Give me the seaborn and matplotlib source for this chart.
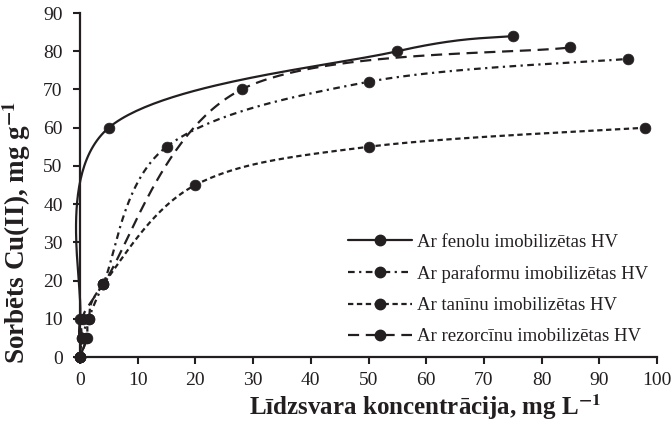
import numpy as np
import pandas as pd
import matplotlib
matplotlib.use("Agg")
import matplotlib.pyplot as plt
import seaborn as sns
from matplotlib.lines import Line2D

# Equilibrium concentration (mg/L) and sorbed Cu(II) (mg/g) for each sorbent
fenolu_x = [0, 1, 0, 5, 55, 75]
fenolu_y = [0, 5, 10, 60, 80, 84]
paraformu_x = [0, 0.3, 1.5, 4, 15, 50, 95]
paraformu_y = [0, 5, 10, 19, 55, 72, 78]
taninu_x = [0, 1.2, 1.5, 4, 20, 50, 98]
taninu_y = [0, 5, 10, 19, 45, 55, 60]
rezorcinu_x = [0, 0.3, 0.5, 4, 28, 85]
rezorcinu_y = [0, 5, 10, 19, 70, 81]

labels = ["Ar fenolu imobilizētas HV", "Ar paraformu imobilizētas HV",
          "Ar tanīnu imobilizētas HV", "Ar rezorcīnu imobilizētas HV"]
x_ticks = list(range(0, 101, 10))
y_ticks = list(range(0, 91, 10))

series = [(fenolu_x, fenolu_y), (paraformu_x, paraformu_y),
          (taninu_x, taninu_y), (rezorcinu_x, rezorcinu_y)]
dash_styles = [None, (3, 2, 1, 2), (2.4, 1.6), (5, 3)]

sns.set_theme(style="ticks")
plt.rcParams["font.family"] = ["Liberation Serif", "DejaVu Serif"]
plt.rcParams["mathtext.fontset"] = "stix"

ink = "#231f20"
fig = plt.figure(figsize=(6.72, 4.22), dpi=100)
ax = fig.add_axes([80 / 672, 1 - 357 / 422, 577 / 672, 344 / 422])
ax.set_xlim(0, 100)
ax.set_ylim(0, 90)


def smooth(xs, ys, sx, sy, n=60):
    """Bezier smoothing through points in display-proportional space."""
    p = np.column_stack([np.asarray(xs, float) * sx, np.asarray(ys, float) * sy])
    out = [p[0]]
    m = len(p)
    for i in range(m - 1):
        p0 = p[i - 1] if i > 0 else p[i]
        p1, p2 = p[i], p[i + 1]
        p3 = p[i + 2] if i + 2 < m else p[i + 1]
        c1 = p1 + (p2 - p0) / 6.0
        c2 = p2 - (p3 - p1) / 6.0
        t = np.linspace(0, 1, n)[1:, None]
        seg = ((1 - t) ** 3) * p1 + 3 * ((1 - t) ** 2) * t * c1 + 3 * (1 - t) * t ** 2 * c2 + t ** 3 * p2
        out.extend(seg)
    out = np.array(out)
    return out[:, 0] / sx, out[:, 1] / sy


sx, sy = 5.77, 3.82
frames = []
for (xs, ys), lab, ds in zip(series, labels, dash_styles):
    cx, cy = smooth(xs, ys, sx, sy)
    line, = ax.plot(cx, cy, color=ink, lw=1.6, clip_on=False)
    if ds is not None:
        line.set_dashes(ds)
    frames.append(pd.DataFrame({"x": xs, "y": ys, "series": lab}))

pts = pd.concat(frames, ignore_index=True)
sns.scatterplot(data=pts, x="x", y="y", ax=ax, color=ink, s=60,
                edgecolor=ink, linewidth=0.5, legend=False, clip_on=False, zorder=5)

handles = []
for lab, ds in zip(labels, dash_styles):
    h = Line2D([0], [0], color=ink, lw=1.6, marker="o", markersize=7.5,
               markerfacecolor=ink, markeredgecolor=ink)
    if ds is not None:
        h.set_dashes(ds)
    handles.append(h)
ax.legend(handles, labels, loc="upper left",
          bbox_to_anchor=(331 / 672, 1 - 217 / 422), bbox_transform=fig.transFigure,
          frameon=False, fontsize=13.5, handlelength=3.4, numpoints=1,
          labelspacing=0.75, handletextpad=0.3, labelcolor=ink, borderpad=0.4)

ax.set_xticks(x_ticks)
ax.set_yticks(y_ticks)
ax.tick_params(axis="both", direction="out", length=5, width=1.5,
               labelsize=14, colors=ink)
ax.tick_params(axis="x", pad=6)
ax.tick_params(axis="y", pad=7.5)
for s in ["top", "right"]:
    ax.spines[s].set_visible(False)
for s in ["left", "bottom"]:
    ax.spines[s].set_linewidth(1.6)
    ax.spines[s].set_color(ink)

ax.set_xlabel(r"Līdzsvara koncentrācija, mg L$^{\mathbf{-1}}$", fontsize=18,
              fontweight="bold", color=ink, va="center")
ax.xaxis.set_label_coords((425 - 80) / 577, (357 - 407) / 344)
ax.set_ylabel(r"Sorbēts Cu(II), mg g$^{\mathbf{-1}}$", fontsize=19.5,
              fontweight="bold", color=ink, va="center")
ax.yaxis.set_label_coords((17 - 80) / 577, (357 - 232) / 344)

fig.savefig("out.png", dpi=100)
